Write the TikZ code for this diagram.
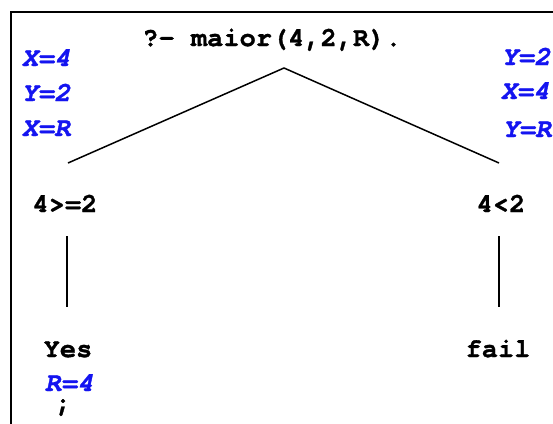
\documentclass[tikz,border=0pt]{standalone}
\usepackage{fontspec}
\setmonofont{TeX Gyre Cursor}[BoldFeatures={FakeBold=1.2}, BoldItalicFeatures={FakeBold=1.2}]
\definecolor{varblue}{RGB}{20,20,240}
\begin{document}
\begin{tikzpicture}[x=1pt,y=-1pt,
  txt/.style={font=\fontsize{27}{27}\selectfont\ttfamily\bfseries, inner sep=0pt, anchor=base},
  var/.style={txt, text=varblue, font=\fontsize{27}{27}\selectfont\ttfamily\bfseries\itshape},
  edge/.style={line width=1.5pt, black}]
\useasboundingbox (0,0) rectangle (553,423);
\draw[line width=2.5pt] (11,430) -- (11,12) -- (560,12);
\node[txt] (q) at (272,46) {?- maior(4,2,R).};
\node[var] (lx) at (46,66) {X=4};
\node[var] (ly) at (46,101) {Y=2};
\node[var] (lr) at (46,136) {X=R};
\node[var] (ry) at (526,65) {Y=2};
\node[var] (rx) at (525,99) {X=4};
\node[var] (rr) at (527,137) {Y=R};
\coordinate (apex) at (284,68);
\coordinate (le) at (68,163);
\coordinate (re) at (499,163);
\draw[edge] (le) -- (apex) -- (re);
\node[txt] (c1) at (65,212) {4>=2};
\node[txt] (c2) at (501,212) {4<2};
\coordinate (l1) at (67,236);
\coordinate (l2) at (67,307);
\coordinate (r1) at (499,236);
\coordinate (r2) at (499,307);
\draw[edge] (l1) -- (l2);
\draw[edge] (r1) -- (r2);
\node[txt] (yes) at (68,357) {Yes};
\node[txt] (fail) at (498,357) {fail};
\node[var] (r4) at (69,391) {R=4};
\node[txt] (semi) at (63,411) {;};
\end{tikzpicture}
\end{document}
